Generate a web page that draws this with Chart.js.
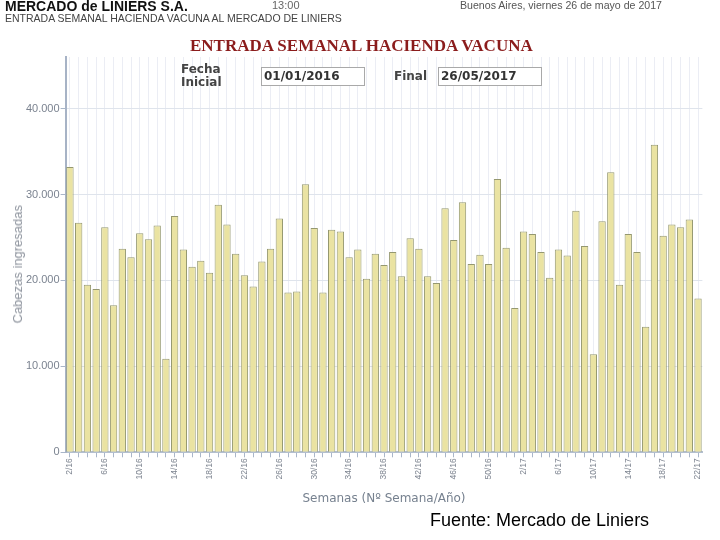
<!DOCTYPE html>
<html>
<head>
<meta charset="utf-8">
<script src="https://cdn.jsdelivr.net/npm/chart.js@4.4.0/dist/chart.umd.min.js"></script>
<style>
  body { margin: 0; background: #fff; }
  #wrap { position: relative; width: 720px; height: 540px; overflow: hidden; font-family: "Liberation Sans", Arial, sans-serif; }
  #wrap canvas { position: absolute; left: 0; top: 0; }
  .txt { position: absolute; white-space: nowrap; line-height: 1; }
  .brand { left: 5px; top: -1px; font-size: 14px; font-weight: bold; color: #111; }
  .hora { left: 272px; top: 0; font-size: 11px; color: #666; }
  .lugar { left: 460px; top: 0; font-size: 10.6px; color: #555; }
  .sub { left: 5px; top: 13px; font-size: 10.5px; color: #444; }
  .titulo { left: 190px; top: 37px; font-family: "Liberation Serif", "Times New Roman", serif; font-size: 17px; font-weight: bold; color: #8b1c1c; }
  .lbl { font-family: "DejaVu Sans", Verdana, sans-serif; font-size: 12px; font-weight: bold; color: #444; line-height: 13px; }
  .box { position: absolute; top: 67px; width: 100px; height: 17px; border: 1px solid #a9a9a9; background: #fff;
         font-family: "DejaVu Sans", Verdana, sans-serif; font-size: 12px; font-weight: bold; color: #333; line-height: 17px; padding-left: 2px; box-sizing: content-box; }
  .ytitle { left: 11px; top: 205px; font-size: 13px; font-weight: normal; color: #8d939d; line-height: 14px;
            writing-mode: vertical-rl; transform: rotate(180deg); }
  .fuente { left: 430px; top: 511px; font-size: 18px; color: #000; }
</style>
</head>
<body>
<div id="wrap">
  <canvas id="chart" width="720" height="540"></canvas>
  <div class="txt brand">MERCADO de LINIERS S.A.</div>
  <div class="txt hora">13:00</div>
  <div class="txt lugar">Buenos Aires, viernes 26 de mayo de 2017</div>
  <div class="txt sub">ENTRADA SEMANAL HACIENDA VACUNA AL MERCADO DE LINIERS</div>
  <div class="txt titulo">ENTRADA SEMANAL HACIENDA VACUNA</div>
  <div class="txt lbl" style="left:181px; top:63px;">Fecha<br>Inicial</div>
  <div class="box" style="left:261px;">01/01/2016</div>
  <div class="txt lbl" style="left:394px; top:70px;">Final</div>
  <div class="box" style="left:438px;">26/05/2017</div>
  <div class="txt ytitle">Cabezas ingresadas</div>
  <div class="txt fuente">Fuente: Mercado de Liniers</div>
</div>
<script>
// semanas 2/16 .. 22/17
const weeks = [
  '2/16', '3/16', '4/16', '5/16', '6/16', '7/16', '8/16', '9/16', '10/16', '11/16',
  '12/16', '13/16', '14/16', '15/16', '16/16', '17/16', '18/16', '19/16', '20/16', '21/16',
  '22/16', '23/16', '24/16', '25/16', '26/16', '27/16', '28/16', '29/16', '30/16', '31/16',
  '32/16', '33/16', '34/16', '35/16', '36/16', '37/16', '38/16', '39/16', '40/16', '41/16',
  '42/16', '43/16', '44/16', '45/16', '46/16', '47/16', '48/16', '49/16', '50/16', '51/16',
  '52/16', '1/17', '2/17', '3/17', '4/17', '5/17', '6/17', '7/17', '8/17', '9/17',
  '10/17', '11/17', '12/17', '13/17', '14/17', '15/17', '16/17', '17/17', '18/17', '19/17',
  '20/17', '21/17', '22/17'
];

const heads2016 = [
  33200, 26700, 19500, 19000, 26200, 17100, 23700, 22700, 25500, 24800,
  26400, 10900, 27500, 23600, 21600, 22300, 20900, 28800, 26500, 23100,
  20600, 19300, 22200, 23700, 27200, 18600, 18700, 31200, 26100, 18600,
  25900, 25700, 22700, 23600, 20200, 23100, 21800, 23300, 20500, 24900,
  23700, 20500, 19700, 28400, 24700, 29100, 21900, 23000, 21900, 31800,
  23800
];
const heads2017 = [
  16800, 25700, 25400, 23300, 20300, 23600, 22900, 28100, 24000, 11400,
  26900, 32600, 19500, 25400, 23300, 14600, 35800, 25200, 26500, 26200,
  27100, 17900
];

const yTicks = [0, 10000, 20000, 30000, 40000];

function fmtMiles(v) {
  return String(v).replace(/\B(?=(\d{3})+(?!\d))/g, '.');
}

const ctx = document.getElementById('chart').getContext('2d');
new Chart(ctx, {
  type: 'bar',
  data: {
    labels: weeks,
    datasets: [{
      data: heads2016.concat(heads2017),
      backgroundColor: '#eae3a2',
      borderColor: '#959870',
      borderWidth: 1,
      barPercentage: 0.84,
      categoryPercentage: 1
    }]
  },
  options: {
    responsive: false,
    animation: false,
    devicePixelRatio: 1,
    layout: { padding: { top: 57, right: 17.6, bottom: 33.7, left: 0 } },
    plugins: { legend: { display: false }, tooltip: { enabled: false } },
    scales: {
      x: {
        grid: { offset: false, color: '#ebedf4', tickLength: 5, tickColor: '#a9b6c9' },
        border: { color: '#b3bfcf', width: 2 },
        ticks: {
          autoSkip: false, minRotation: 90, maxRotation: 90, padding: 1,
          color: '#7d8490', font: { family: 'Liberation Sans', size: 8.5 },
          callback: (v, i) => (i % 4 === 0 ? weeks[i] : '')
        },
        title: {
          display: true, text: 'Semanas (Nº Semana/Año)', color: '#76818f',
          font: { family: 'DejaVu Sans', size: 12 }, padding: { top: 0, bottom: 0 }
        },
        afterFit: s => { s.height = 54; }
      },
      y: {
        min: 0, max: 46000,
        afterBuildTicks: s => { s.ticks = yTicks.map(v => ({ value: v })); },
        ticks: {
          padding: 1, color: '#7b8390',
          font: { family: 'Liberation Sans', size: 11 },
          callback: v => fmtMiles(v)
        },
        grid: { color: '#dfe4ec', tickLength: 5, tickColor: '#a9b6c9' },
        border: { color: '#a7b3c6', width: 2 },
        afterFit: s => { s.width = 65.6; }
      }
    }
  }
});
</script>
</body>
</html>
